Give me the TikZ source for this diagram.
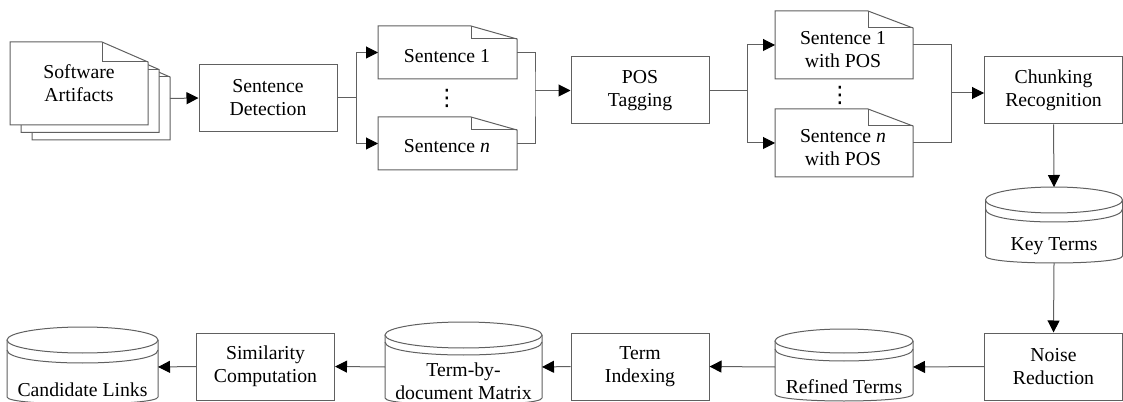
\documentclass[tikz,border=0pt]{standalone}
\usepackage{fontspec}
\setmainfont{Liberation Serif}
\newfontfamily\symfnt{DejaVu Sans}
\usetikzlibrary{arrows.meta}
\definecolor{linec}{RGB}{96,96,96}
% document page with folded corner: x1,y1,x2,y2,foldx,foldy
\newcommand{\docshp}[6]{%
  \filldraw[shp] (#1,#2) -- (#5,#2) -- (#3,#6) -- (#3,#4) -- (#1,#4) -- cycle;
  \draw[shp,fill=none] (#5,#2) -- (#5,#6) -- (#3,#6);}
% database cylinder: cx, rx, cy, ry, offset, bottom, bottom ry
\newcommand{\cylshp}[7]{%
  \filldraw[shp] ({#1-#2},#3) -- ({#1-#2},#6) .. controls ({#1-#2},{#6+4/3*#7}) and ({#1+#2},{#6+4/3*#7}) .. ({#1+#2},#6) -- ({#1+#2},#3);
  \filldraw[shp] (#1,#3) ellipse [x radius=#2, y radius=#4];
  \draw[shp,fill=none] ({#1-#2},{#3+#5}) .. controls ({#1-#2},{#3+#5+4/3*#4}) and ({#1+#2},{#3+#5+4/3*#4}) .. ({#1+#2},{#3+#5});}
\begin{document}
\begin{tikzpicture}[x=0.75pt,y=-0.75pt,
  shp/.style={draw=linec,line width=0.75pt,fill=white},
  conn/.style={draw=linec,line width=0.75pt},
  arr/.style={conn,-{Triangle[length=9pt,width=9pt,color=black]}},
  txt/.style={font=\fontsize{14.8pt}{17.3pt}\selectfont,align=center,inner sep=0pt},
  dotsty/.style={font=\fontsize{17pt}{17pt}\symfnt,inner sep=0pt},
  box/.style={shp,txt,minimum width=103.5pt,minimum height=50.25pt},
  ghost/.style={inner sep=0pt,outer sep=0pt}]
\useasboundingbox (0,0) rectangle (1123,402);
\clip (0,0) rectangle (1123,402);

% ---- Software artifacts (stack of pages)
\docshp{32}{57}{170}{140}{124}{77}
\docshp{21}{49.5}{159}{132.5}{113}{69.5}
\docshp{10}{42}{148}{125}{102}{62}
\node[ghost,minimum width=103.5pt,minimum height=62.25pt] (sa3) at (101,98.5) {};
\node[ghost,minimum width=103.5pt,minimum height=62.25pt] (sa) at (79,83.5) {};
\node[txt] (sat) at (79,83.5) {Software\\Artifacts};

% ---- process boxes
\node[box] (sd) at (268,98) {Sentence\\Detection};
\node[box] (pos) at (640,90.5) {POS\\Tagging};
\node[box] (ch) at (1053.5,90.5) {Chunking\\Recognition};
\node[box] (nr) at (1053.5,366.5) {Noise\\Reduction};
\node[box] (ti) at (640,366.5) {Term\\Indexing};
\node[box] (sc) at (265.5,366.5) {Similarity\\Computation};

% ---- sentence documents
\docshp{378}{26}{517}{79}{471}{39}
\node[ghost,minimum width=104.25pt,minimum height=39.75pt] (s1) at (447.5,52.5) {};
\node[txt] (s1t) at (447,56) {Sentence 1};
\docshp{378}{117}{517}{170}{471}{130}
\node[ghost,minimum width=104.25pt,minimum height=39.75pt] (sn) at (447.5,143.5) {};
\node[txt] (snt) at (447,146) {Sentence \textit{n}};
\node[dotsty] (d1) at (447,98) {⋮};

\docshp{775}{11}{913}{79}{868}{28}
\node[ghost,minimum width=103.5pt,minimum height=51pt] (p1) at (844,45) {};
\node[txt] (p1t) at (843,50) {Sentence 1\\with POS};
\docshp{775}{109}{913}{177}{868}{126}
\node[ghost,minimum width=103.5pt,minimum height=51pt] (pn) at (844,143) {};
\node[txt] (pnt) at (843,148) {Sentence \textit{n}\\with POS};
\node[dotsty] (d2) at (840,95) {⋮};

% ---- databases
\cylshp{1054}{68.5}{200}{13}{9}{256}{7}
\node[ghost,minimum width=102.75pt,minimum height=57pt] (kt) at (1054,225) {};
\node[txt] (ktt) at (1054,246) {Key Terms};

\cylshp{844}{69}{341}{12}{8}{394}{7}
\node[ghost,minimum width=103.5pt,minimum height=52.5pt] (rt) at (844,367) {};
\node[txt] (rtt) at (844,387) {Refined Terms};

\cylshp{463.5}{78.5}{335}{13}{7}{398}{7}
\node[ghost,minimum width=117.75pt,minimum height=60pt] (td) at (463.5,367) {};
\node[txt] (tdt) at (463.5,381.5) {Term-by-\\document Matrix};

\cylshp{82.5}{75.5}{340}{13}{10}{397}{7}
\node[ghost,minimum width=113.25pt,minimum height=57pt] (cl) at (82.5,367) {};
\node[txt] (clt) at (82.5,390) {Candidate Links};

% ---- connectors
\draw[arr] (sa3.east) -- (sd.west);
\draw[conn] (sd.east) -- ++(19,0) coordinate (j1);
\draw[arr] (j1) |- (s1.west);
\draw[arr] (j1) |- (sn.west);
\coordinate (j2) at (535,90.5);
\draw[conn] (s1.east) -| (j2) |- (sn.east);
\draw[arr] (j2) -- (pos.west);
\draw[conn] (pos.east) -- ++(38,0) coordinate (j3);
\draw[arr] (j3) |- (p1.west);
\draw[arr] (j3) |- (pn.west);
\coordinate (j4) at (951,93);
\draw[conn] (p1.east) -| (j4) |- (pn.east);
\draw[arr] (j4) -- (j4 -| ch.west);
\draw[arr] (ch.south) -- (kt.north);
\draw[arr] (kt.south) -- (nr.north);
\draw[arr] (nr.west) -- (rt.east);
\draw[arr] (rt.west) -- (ti.east);
\draw[arr] (ti.west) -- (td.east);
\draw[arr] (td.west) -- (sc.east);
\draw[arr] (sc.west) -- (cl.east);
\end{tikzpicture}
\end{document}
